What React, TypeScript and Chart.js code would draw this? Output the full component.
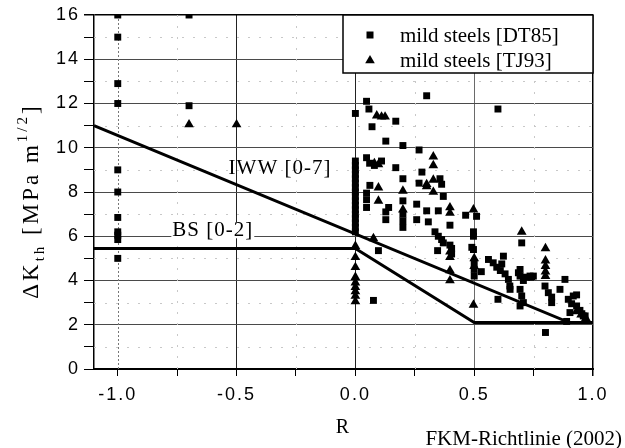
import React, { useEffect, useRef } from 'react';
import { Chart, registerables } from 'chart.js';

Chart.register(...registerables);

// ---- tick labels ----
const xTickLabels = ['-1.0', '-0.5', '0.0', '0.5', '1.0'];
const yTickLabels = ['0', '2', '4', '6', '8', '10', '12', '14', '16'];

// ---- mild steels [DT85] (squares) ----
const dt85R = [
  -1, -1, -1, -1, -1, -1, -1, -1, -1, -1, -1,
  -0.7, -0.7,
  0, 0, 0, 0, 0, 0, 0, 0, 0, 0, 0, 0, 0, 0, 0, 0, 0, 0,
  0.047, 0.057, 0.07, 0.047, 0.06, 0.08, 0.11, 0.061, 0.047, 0.047, 0.047, 0.097, 0.076,
  0.3, 0.17, 0.128, 0.2, 0.268, 0.17, 0.28, 0.2, 0.268, 0.356, 0.363, 0.37, 0.2, 0.14, 0.128, 0.128,
  0.2, 0.2, 0.2, 0.258, 0.3, 0.349, 0.258, 0.307, 0.398, 0.464, 0.51, 0.335, 0.349, 0.363, 0.37,
  0.398, 0.346, 0.405, 0.405, 0.497, 0.497, 0.49, 0.497,
  0.6,
  0.5, 0.5, 0.5, 0.53,
  0.56, 0.58, 0.595, 0.61, 0.623, 0.616, 0.63, 0.644, 0.65, 0.6, 0.686, 0.651,
  0.7, 0.693, 0.693, 0.707, 0.72, 0.742, 0.693, 0.7, 0.707, 0.693, 0.735, 0.749,
  0.798, 0.812, 0.826, 0.826, 0.861, 0.882,
  0.896, 0.917, 0.931, 0.91, 0.931, 0.945, 0.959, 0.903, 0.889, 0.8, 0.967, 0.953,
];
const dt85K = [
  16, 15, 12.9, 12, 9, 8, 6.85, 6.2, 6.05, 5.85, 5.0,
  16, 11.9,
  11.55, 9.4, 9.2, 9.0, 8.8, 8.6, 8.4, 8.2, 8.0, 7.8, 7.6, 7.4, 7.2, 7.0, 6.8, 6.6, 6.4, 6.2,
  12.1, 11.75, 10.95, 9.55, 9.3, 9.2, 9.4, 8.3, 7.95, 7.65, 7.3, 5.35, 3.1,
  12.35, 11.2, 10.3, 10.1, 9.9, 9.1, 8.9, 8.6, 8.4, 8.6, 8.35, 7.8, 7.6, 7.3, 7.1, 6.75,
  7.0, 6.7, 6.4, 7.45, 7.15, 7.15, 6.75, 6.65, 6.5, 6.95, 6.9, 6.2, 6.0, 5.85, 5.7,
  5.6, 5.35, 5.45, 5.2, 6.2, 6.0, 5.5, 5.4,
  11.75,
  4.8, 4.5, 4.2, 4.4,
  4.95, 4.8, 4.6, 4.45, 5.1, 4.75, 4.3, 4.05, 3.75, 3.15, 4.35, 3.6,
  5.7, 4.5, 4.2, 4.0, 4.15, 4.15, 3.6, 3.3, 3.0, 2.85, 4.2, 4.2,
  3.75, 3.45, 3.25, 3.0, 3.6, 4.05,
  3.15, 3.3, 3.35, 2.95, 2.85, 2.65, 2.4, 2.55, 2.15, 1.65, 2.4, 2.5,
];

// ---- mild steels [TJ93] (triangles) ----
const tj93R = [
  -0.7, -0.5,
  0, 0, 0, 0, 0, 0, 0, 0, 0,
  0.09, 0.11, 0.125, 0.08, 0.097, 0.097, 0.097, 0.2, 0.2, 0.3, 0.328, 0.328, 0.328, 0.3, 0.328,
  0.398, 0.398, 0.398, 0.398, 0.398, 0.398, 0.497, 0.497, 0.076, 0.5, 0.5,
  0.7, 0.8, 0.8, 0.8, 0.8, 0.8, 0.93, 0.95, 0.97,
];
const tj93K = [
  11.05, 11.05,
  5.55, 5.05, 4.6, 4.15, 3.9, 3.7, 3.5, 3.3, 3.05,
  11.45, 11.4, 11.4, 9.3, 9.25, 8.2, 7.6, 8.05, 7.2, 8.25, 9.6, 9.2, 8.0, 8.35, 8.55,
  7.3, 7.05, 5.3, 5.05, 4.45, 4.0, 7.2, 2.9, 5.9, 5.0, 4.65,
  6.2, 5.45, 4.9, 4.65, 4.4, 4.2, 2.6, 2.45, 2.3,
];

// ---- threshold lines ----
const iwwR = [-1.1, 0.9, 1.0];
const iwwK = [11.0, 2.1, 2.1];
const bsR = [-1.1, 0, 0.5, 1.0];
const bsK = [5.45, 5.45, 2.1, 2.1];

const SERIF = "'Liberation Serif', 'Times New Roman', serif";
const SANS = "'Liberation Sans', Arial, sans-serif";

const pts = (r: number[], k: number[]) => r.map((x, i) => ({ x, y: k[i] }));
const near = (a: number, b: number) => Math.abs(a - b) < 1e-6;

const decorPlugin = {
  id: 'decor',
  beforeLayout(chart: any) {
    chart.ctx.letterSpacing = '2px';
  },
  beforeDraw(chart: any) {
    chart.ctx.letterSpacing = '2px';
  },
  beforeDatasetsDraw(chart: any) {
    const { ctx, chartArea: a, scales } = chart;
    const x = scales.x;
    const y = scales.y;
    ctx.save();
    ctx.lineWidth = 1;
    ctx.strokeStyle = '#c8c8c8';
    ctx.setLineDash([2, 9]);
    for (const t of y.ticks) {
      if (Math.round(t.value) % 2 === 1) {
        const py = Math.round(y.getPixelForValue(t.value)) + 0.5;
        ctx.beginPath();
        ctx.moveTo(a.left, py);
        ctx.lineTo(a.right, py);
        ctx.stroke();
      }
    }
    for (const t of x.ticks) {
      const v = t.value;
      if (!near(v * 2, Math.round(v * 2))) {
        const px = Math.round(x.getPixelForValue(v)) + 0.5;
        ctx.beginPath();
        ctx.moveTo(px, a.top);
        ctx.lineTo(px, a.bottom);
        ctx.stroke();
      }
    }
    // dotted line at R = -1
    ctx.strokeStyle = '#777';
    ctx.setLineDash([2, 2]);
    const pm = Math.round(x.getPixelForValue(-1)) + 0.5;
    ctx.beginPath();
    ctx.moveTo(pm, a.top);
    ctx.lineTo(pm, a.bottom);
    ctx.stroke();
    ctx.restore();
  },
  afterDatasetsDraw(chart: any) {
    const { ctx, scales } = chart;
    const x = scales.x;
    const y = scales.y;
    ctx.save();
    ctx.letterSpacing = '1px';
    ctx.font = `21px ${SERIF}`;
    ctx.fillStyle = '#000';
    ctx.textAlign = 'center';
    ctx.textBaseline = 'middle';
    const labels = [
      { text: 'IWW [0-7]', r: -0.317, k: 9.08, bg: false },
      { text: 'BS [0-2]', r: -0.6, k: 6.27, bg: true },
    ];
    for (const l of labels) {
      const px = x.getPixelForValue(l.r);
      const py = y.getPixelForValue(l.k);
      const w = ctx.measureText(l.text).width;
      if (l.bg) {
        ctx.fillStyle = '#fff';
        ctx.fillRect(px - w / 2 - 1, py - 8, w + 2, 16);
        ctx.fillStyle = '#000';
      }
      ctx.fillText(l.text, px, py);
    }
    ctx.restore();
  },
  afterDraw(chart: any) {
    const { ctx, chartArea: a } = chart;
    ctx.save();
    ctx.letterSpacing = '0px';
    // legend box
    const bx = 343;
    const by = a.top;
    const bw = a.right - bx;
    const bh = 58;
    ctx.fillStyle = '#fff';
    ctx.fillRect(bx, by, bw, bh);
    ctx.strokeStyle = '#000';
    ctx.lineWidth = 1.5;
    ctx.strokeRect(bx, by, bw, bh);
    ctx.fillStyle = '#000';
    // square marker
    ctx.fillRect(370 - 3.5, by + 20 - 3.5, 7, 7);
    // triangle marker
    const tx = 370;
    const ty = by + 45;
    ctx.beginPath();
    ctx.moveTo(tx, ty - 5);
    ctx.lineTo(tx + 4.8, ty + 3.3);
    ctx.lineTo(tx - 4.8, ty + 3.3);
    ctx.closePath();
    ctx.fill();
    ctx.font = `21px ${SERIF}`;
    ctx.textAlign = 'left';
    ctx.textBaseline = 'alphabetic';
    ctx.fillText('mild steels [DT85]', 400, by + 27);
    ctx.fillText('mild steels [TJ93]', 400, by + 52);

    // y-axis title with subscript / superscript
    const pieces: any[] = [
      { t: '\u0394K', size: 23, dy: 0 },
      { t: 'th', size: 15, dy: 6 },
      { t: ' [MPa m', size: 23, dy: 0 },
      { t: '1/2', size: 15, dy: -11 },
      { t: ']', size: 23, dy: 0 },
    ];
    ctx.letterSpacing = '3px';
    let total = 0;
    for (const p of pieces) {
      ctx.font = `${p.size}px ${SERIF}`;
      p.w = ctx.measureText(p.t).width;
      total += p.w;
    }
    ctx.save();
    ctx.translate(38, 201);
    ctx.rotate(-Math.PI / 2);
    let xx = -total / 2;
    for (const p of pieces) {
      ctx.font = `${p.size}px ${SERIF}`;
      ctx.fillText(p.t, xx, p.dy);
      xx += p.w;
    }
    ctx.restore();

    // source note
    ctx.letterSpacing = '0px';
    ctx.font = `21px ${SERIF}`;
    ctx.textAlign = 'right';
    ctx.fillText('FKM-Richtlinie (2002)', 622, 445);
    ctx.restore();
  },
};

export default function App() {
  const ref = useRef<HTMLCanvasElement>(null);
  useEffect(() => {
    if (!ref.current) return;
    const chart = new Chart(ref.current, {
      type: 'scatter',
      data: {
        datasets: [
          {
            type: 'line',
            label: 'IWW [0-7]',
            data: pts(iwwR, iwwK),
            borderColor: '#000',
            borderWidth: 3,
            pointRadius: 0,
            fill: false,
            tension: 0,
          } as any,
          {
            type: 'line',
            label: 'BS [0-2]',
            data: pts(bsR, bsK),
            borderColor: '#000',
            borderWidth: 3,
            pointRadius: 0,
            fill: false,
            tension: 0,
          } as any,
          {
            label: 'mild steels [DT85]',
            data: pts(dt85R, dt85K),
            pointStyle: 'rect',
            pointRadius: 4.9,
            backgroundColor: '#000',
            borderColor: '#000',
            borderWidth: 0,
          },
          {
            label: 'mild steels [TJ93]',
            data: pts(tj93R, tj93K),
            pointStyle: 'triangle',
            pointRadius: 5.6,
            backgroundColor: '#000',
            borderColor: '#000',
            borderWidth: 0,
          },
        ],
      },
      options: {
        animation: false,
        responsive: false,
        devicePixelRatio: 1,
        layout: { padding: { top: 15, right: 32, left: 0, bottom: 0 } },
        plugins: {
          legend: { display: false },
          tooltip: { enabled: false },
        },
        scales: {
          x: {
            type: 'linear',
            min: -1.1,
            max: 1.0,
            afterFit: (s: any) => {
              s.height = 79;
            },
            ticks: {
              stepSize: 0.25,
              includeBounds: false,
              autoSkip: false,
              maxRotation: 0,
              padding: 8,
              color: '#000',
              font: { family: SANS, size: 18 },
              callback: (v: any) => xTickLabels.find((l) => near(parseFloat(l), Number(v))) ?? '',
            },
            grid: {
              color: (c: any) => {
                const v = c.tick ? c.tick.value : NaN;
                if (near(v, -0.5) || near(v, 0)) return '#222';
                if (near(v, 0.5)) return '#6a6a6a';
                if (near(v, 1)) return '#000';
                return 'rgba(0,0,0,0)';
              },
              lineWidth: (c: any) => (c.tick && near(c.tick.value, 1) ? 1.5 : 1),
              tickColor: '#000',
              tickLength: 7,
            },
            border: { color: '#000', width: 2 },
            title: {
              display: true,
              text: 'R',
              color: '#000',
              font: { family: SERIF, size: 20 },
              padding: { top: 0, bottom: 8 },
            },
          },
          y: {
            type: 'linear',
            min: 0,
            max: 16,
            afterFit: (s: any) => {
              s.width = 94;
            },
            ticks: {
              stepSize: 1,
              maxTicksLimit: 100,
              autoSkip: false,
              padding: 4,
              color: '#000',
              font: { family: SANS, size: 18 },
              callback: (v: any) => yTickLabels.find((l) => near(parseFloat(l), Number(v))) ?? '',
            },
            grid: {
              color: (c: any) => {
                const v = c.tick ? Math.round(c.tick.value) : NaN;
                if (v === 16) return '#000';
                if (v > 0 && v % 2 === 0) return '#4a4a4a';
                return 'rgba(0,0,0,0)';
              },
              lineWidth: (c: any) => (c.tick && Math.round(c.tick.value) === 16 ? 1.5 : 1),
              tickColor: '#000',
              tickLength: 10,
            },
            border: { color: '#000', width: 1.5 },
          },
        },
      } as any,
      plugins: [decorPlugin],
    });
    return () => chart.destroy();
  }, []);

  return (
    <div style={{ position: 'fixed', left: 0, top: 0, width: 625, height: 448, background: '#fff' }}>
      <canvas ref={ref} width={625} height={448} style={{ width: 625, height: 448, display: 'block' }} />
    </div>
  );
}
